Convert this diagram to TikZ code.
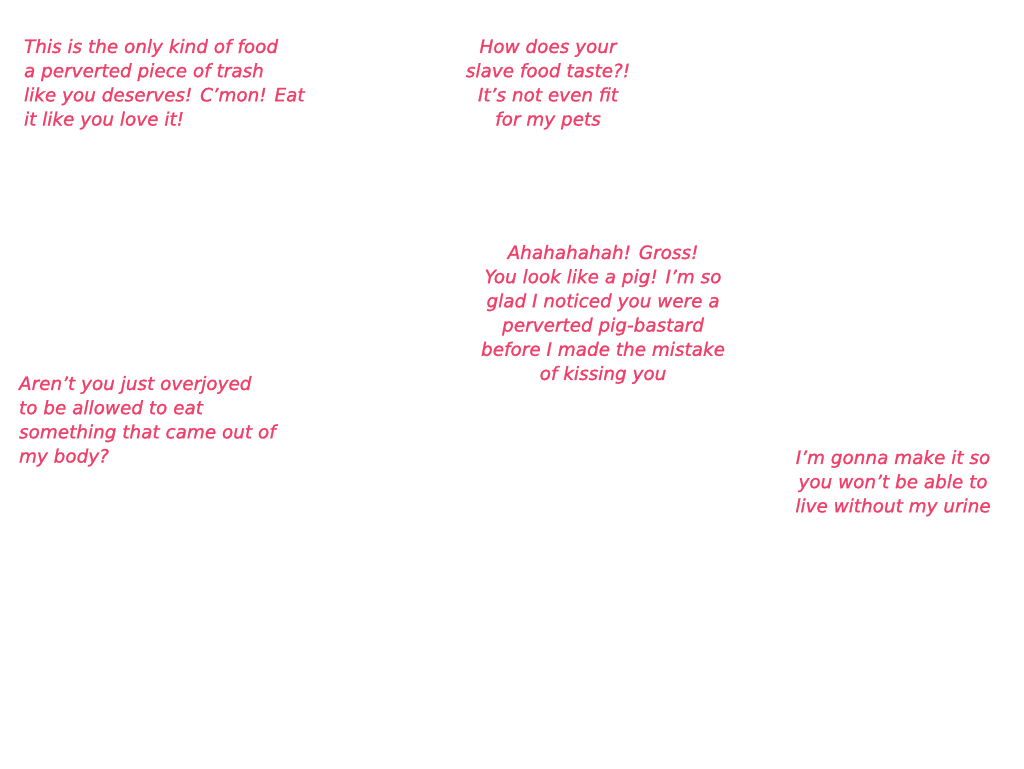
\documentclass[tikz,border=0pt]{standalone}
\usepackage{fontspec}
\setmainfont{DejaVu Sans}[ItalicFeatures={FakeBold=1.2}]
\definecolor{pinktext}{HTML}{F0406A}
\begin{document}
\begin{tikzpicture}[x=1pt,y=-1pt,
  say/.style={inner sep=0pt,outer sep=0pt,text=pinktext,font=\fontsize{18.4}{24.2}\selectfont\itshape}]
\useasboundingbox[fill=white] (0,0) rectangle (1024,768);
\node[say,align=left,anchor=north west] (t1) at (24,39) {This is the only kind of food\\a perverted piece of trash\\like you deserves! C'mon! Eat\\it like you love it!};
\node[say,align=center,anchor=north] (t2) at (548,39) {How does your\\slave food taste?!\\It's not even fit\\for my pets};
\node[say,align=center,anchor=north] (t3) at (603,245) {Ahahahahah! Gross!\\You look like a pig! I'm so\\glad I noticed you were a\\perverted pig-bastard\\before I made the mistake\\of kissing you};
\node[say,align=left,anchor=north west] (t4) at (19,376) {Aren't you just overjoyed\\to be allowed to eat\\something that came out of\\my body?};
\node[say,align=center,anchor=north] (t5) at (893,450) {I'm gonna make it so\\you won't be able to\\live without my urine};
\end{tikzpicture}
\end{document}
